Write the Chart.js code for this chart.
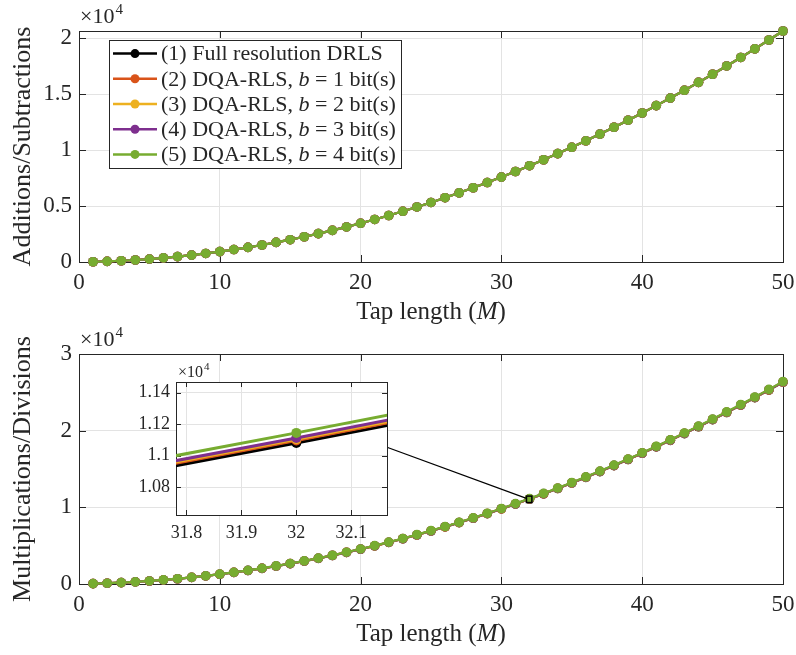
<!DOCTYPE html>
<html><head><meta charset="utf-8">
<script src="https://cdn.jsdelivr.net/npm/chart.js@4/dist/chart.umd.min.js"></script>
<style>
html,body{margin:0;padding:0;background:#fff;}
#wrap{position:relative;width:796px;height:655px;overflow:hidden;background:#fff;}
canvas{position:absolute;}
</style></head><body>
<div id="wrap">
<canvas id="cTop" width="796" height="327" style="left:0;top:0"></canvas>
<canvas id="cBot" width="796" height="328" style="left:0;top:327px"></canvas>
<canvas id="cIns" width="285" height="190" style="left:110px;top:360px"></canvas>
</div>
<script>
// ---------------- DATA ----------------
const tapLength = [1,2,3,4,5,6,7,8,9,10,11,12,13,14,15,16,17,18,19,20,21,22,23,24,25,26,27,28,29,30,31,32,33,34,35,36,37,38,39,40,41,42,43,44,45,46,47,48,49,50];
const additions = [21,58,111,180,265,366,483,616,765,930,1111,1308,1521,1750,1995,2256,2533,2826,3135,3460,3801,4158,4531,4920,5325,5746,6183,6636,7105,7590,8091,8608,9141,9690,10255,10836,11433,12046,12675,13320,13981,14658,15351,16060,16785,17526,18283,19056,19845,20650];
const multFull = [44,100,176,272,388,524,680,856,1052,1268,1504,1760,2036,2332,2648,2984,3340,3716,4112,4528,4964,5420,5896,6392,6908,7444,8000,8576,9172,9788,10424,11080,11756,12452,13168,13904,14660,15436,16232,17048,17884,18740,19616,20512,21428,22364,23320,24296,25292,26308];
const multB1 = [45,101,178,274,391,527,684,860,1057,1273,1510,1766,2043,2339,2656,2992,3349,3725,4122,4538,4975,5431,5908,6404,6921,7457,8014,8590,9187,9803,10440,11096,11773,12469,13186,13922,14679,15455,16252,17068,17905,18761,19638,20534,21451,22387,23344,24320,25317,26333];
const multB2 = [45,102,178,275,392,529,685,862,1059,1276,1512,1769,2046,2343,2659,2996,3353,3730,4126,4543,4980,5437,5913,6410,6927,7464,8020,8597,9194,9811,10447,11104,11781,12478,13194,13931,14688,15465,16261,17078,17915,18772,19648,20545,21462,22399,23355,24332,25329,26346];
const multB3 = [45,102,179,276,393,530,687,864,1061,1278,1515,1772,2049,2346,2663,3000,3357,3734,4131,4548,4985,5442,5919,6416,6933,7470,8027,8604,9201,9818,10455,11112,11789,12486,13203,13940,14697,15474,16271,17088,17925,18782,19659,20556,21473,22410,23367,24344,25341,26358];
const multB4 = [46,104,182,280,398,536,694,872,1070,1288,1526,1784,2062,2360,2678,3016,3374,3752,4150,4568,5006,5464,5942,6440,6958,7496,8054,8632,9230,9848,10486,11144,11822,12520,13238,13976,14734,15512,16310,17128,17966,18824,19702,20600,21518,22456,23414,24392,25390,26408];
const legendText = ['(1) Full resolution DRLS','(2) DQA-RLS, ','(3) DQA-RLS, ','(4) DQA-RLS, ','(5) DQA-RLS, '];
const legendBits = [null,1,2,3,4];
const xTicks = [0,10,20,30,40,50];
const topYTicks = [0,5000,10000,15000,20000];
const topYMax = 20650;
const botYTicks = [0,10000,20000,30000];
const insetXRange = [31.781,32.165];
const insetYRange = [10623,11467];
const insetXTicks = [31.8,31.9,32,32.1];
const insetYTicks = [10800,11000,11200,11400];
const connectorFrom = [32.165,11053]; // inset data coords
const connectorTo = [31.781,11170];   // main data coords
const yTitleTop = 'Additions/Subtractions';
const yTitleBot = 'Multiplications/Divisions';

// ---------------- STYLE ----------------
const FAM = "'Liberation Serif','Times New Roman',serif";
const colors = ['#000000','#D95319','#EDB120','#7E2F8E','#77AC30'];
const AX = '#262626';
const GRID = '#e3e3e3';

function fmt(v){ return String(+v.toFixed(4)); }
function sets(arrays, lw, pr, clip){
  return arrays.map((d,i)=>({
    label: legendText[i],
    data: tapLength.map((m,j)=>({x:m,y:d[j]})),
    borderColor: colors[i], backgroundColor: colors[i],
    pointBackgroundColor: colors[i], pointBorderColor: colors[i],
    borderWidth: lw, pointRadius: pr, pointBorderWidth: 0, pointHoverRadius: pr,
    order: arrays.length-1-i, tension: 0, clip: clip
  }));
}

const boxPlugin = {
  id:'boxPlugin',
  beforeDatasetsDraw(chart, args, o){
    const {ctx, chartArea:a, scales:{x,y}} = chart;
    const L = o.len;
    ctx.save();
    ctx.strokeStyle = AX; ctx.lineWidth = 1;
    ctx.beginPath();
    x.ticks.forEach(t=>{const p=Math.round(x.getPixelForValue(t.value))+0.5;
      ctx.moveTo(p,a.bottom); ctx.lineTo(p,a.bottom-L); ctx.moveTo(p,a.top); ctx.lineTo(p,a.top+L);});
    y.ticks.forEach(t=>{const p=Math.round(y.getPixelForValue(t.value))+0.5;
      ctx.moveTo(a.left,p); ctx.lineTo(a.left+L,p); ctx.moveTo(a.right,p); ctx.lineTo(a.right-L,p);});
    ctx.stroke();
    ctx.strokeRect(Math.round(a.left)+0.5, Math.round(a.top)+0.5, Math.round(a.right-a.left), Math.round(a.bottom-a.top));
    ctx.restore();
  }
};
const whiteBg = {
  id:'whiteBg',
  beforeDraw(chart){
    const {ctx, chartArea:a} = chart;
    ctx.save(); ctx.fillStyle='#fff'; ctx.fillRect(a.left,a.top,a.right-a.left,a.bottom-a.top); ctx.restore();
  }
};
const annot = {
  id:'annot',
  afterDraw(chart, args, o){
    const {ctx, chartArea:a} = chart;
    ctx.save();
    ctx.fillStyle = AX; ctx.textBaseline = 'alphabetic';
    if (o.exp){
      ctx.font = o.exp.size+'px '+FAM;
      ctx.textAlign='left';
      const x0 = a.left + o.exp.dx, y0 = a.top - o.exp.dy;
      ctx.fillText('\u00d710', x0, y0);
      const w = ctx.measureText('\u00d710').width;
      ctx.font = o.exp.sup+'px '+FAM;
      ctx.fillText('4', x0+w+1, y0 - o.exp.size*0.42);
    }
    if (o.xt){
      const parts = [['Tap length (',false],['M',true],[')',false]];
      let tw = 0;
      parts.forEach(p=>{ctx.font=(p[1]?'italic ':'')+o.xt.size+'px '+FAM; tw+=ctx.measureText(p[0]).width;});
      let xx = (a.left+a.right)/2 - tw/2; const yy = a.bottom + o.xt.dy;
      ctx.textAlign='left';
      parts.forEach(p=>{ctx.font=(p[1]?'italic ':'')+o.xt.size+'px '+FAM; ctx.fillText(p[0],xx,yy); xx+=ctx.measureText(p[0]).width;});
    }
    ctx.restore();
  }
};
const legendPlugin = {
  id:'legendPlugin',
  afterDraw(chart, args, o){
    if (!o.show) return;
    const {ctx, chartArea:a} = chart;
    const size = o.size;
    const rows = legendText.map((t,i)=>{
      const r = [[t,false]];
      if (legendBits[i]!==null){ r.push(['b',true]); r.push([' = '+legendBits[i]+' bit(s)',false]); }
      return r;
    });
    let maxW = 0;
    rows.forEach(r=>{let w=0; r.forEach(p=>{ctx.font=(p[1]?'italic ':'')+size+'px '+FAM; w+=ctx.measureText(p[0]).width;}); maxW=Math.max(maxW,w);});
    const bx = a.left + o.dx, by = a.top + o.dy;
    const bw = 52 + maxW + 5, bh = o.rowH*rows.length + 2;
    ctx.save();
    ctx.fillStyle='#fff'; ctx.fillRect(bx,by,bw,bh);
    ctx.strokeStyle=AX; ctx.lineWidth=1; ctx.strokeRect(Math.round(bx)+0.5,Math.round(by)+0.5,Math.round(bw),Math.round(bh));
    rows.forEach((r,i)=>{
      const cy = by + 1 + o.rowH*(i+0.5);
      ctx.strokeStyle=colors[i]; ctx.lineWidth=2.5;
      ctx.beginPath(); ctx.moveTo(bx+4,cy); ctx.lineTo(bx+48,cy); ctx.stroke();
      ctx.fillStyle=colors[i]; ctx.beginPath(); ctx.arc(bx+26,cy,4.5,0,Math.PI*2); ctx.fill();
      let xx = bx+52;
      ctx.fillStyle=AX; ctx.textBaseline='middle'; ctx.textAlign='left';
      r.forEach(p=>{ctx.font=(p[1]?'italic ':'')+size+'px '+FAM; ctx.fillText(p[0],xx,cy+1); xx+=ctx.measureText(p[0]).width;});
    });
    ctx.restore();
  }
};
const zoomRect = {
  id:'zoomRect',
  afterDatasetsDraw(chart, args, o){
    if (!o.show) return;
    const {ctx, scales:{x,y}} = chart;
    const x0=x.getPixelForValue(insetXRange[0]), x1=x.getPixelForValue(insetXRange[1]);
    const y0=y.getPixelForValue(insetYRange[1]), y1=y.getPixelForValue(insetYRange[0]);
    ctx.save(); ctx.strokeStyle='#000'; ctx.lineWidth=1.5;
    ctx.strokeRect(x0,y0,x1-x0,y1-y0);
    const ins = o.inset();
    if (ins){
      const fx = ins.chart.scales.x.getPixelForValue(connectorFrom[0]) + ins.dx;
      const fy = ins.chart.scales.y.getPixelForValue(connectorFrom[1]) + ins.dy;
      ctx.lineWidth=1.3; ctx.beginPath(); ctx.moveTo(fx,fy);
      ctx.lineTo(x.getPixelForValue(connectorTo[0]), y.getPixelForValue(connectorTo[1])); ctx.stroke();
    }
    ctx.restore();
  }
};

Chart.register(boxPlugin, whiteBg, annot, legendPlugin, zoomRect);

function baseOpts(cfg){
  return {
    responsive:false, animation:false, events:[],
    layout:{padding:cfg.pad},
    plugins:{legend:{display:false}, tooltip:{enabled:false},
      boxPlugin:{len:cfg.tickLen}, annot:{exp:cfg.exp, xt:cfg.xt},
      legendPlugin:cfg.legend||{show:false}, zoomRect:cfg.zoom||{show:false}},
    scales:{
      x:{type:'linear', min:cfg.xmin, max:cfg.xmax,
        afterBuildTicks:s=>{s.ticks=cfg.xt_ticks.map(v=>({value:v}));},
        afterFit:s=>{s.height=cfg.xh; s.paddingRight=0; s.paddingLeft=0;},
        ticks:{font:{family:FAM,size:cfg.tsize}, color:AX, padding:cfg.xpad, maxRotation:0, autoSkip:false, callback:v=>fmt(v)},
        grid:{color:GRID, drawTicks:false, lineWidth:1}, border:{display:false}},
      y:{type:'linear', min:cfg.ymin, max:cfg.ymax,
        afterBuildTicks:s=>{s.ticks=cfg.yt_ticks.map(v=>({value:v}));},
        afterFit:s=>{s.width=cfg.yw; s.paddingTop=0; s.paddingBottom=0;},
        ticks:{font:{family:FAM,size:cfg.tsize}, color:AX, padding:cfg.ypad, autoSkip:false, callback:v=>fmt(v/1e4)},
        title:{display:!!cfg.ytitle, text:cfg.ytitle||'', color:AX, font:{family:FAM,size:26}, padding:{top:8,bottom:0}},
        grid:{color:GRID, drawTicks:false, lineWidth:1}, border:{display:false}}
    }
  };
}

const insetChart = new Chart(document.getElementById('cIns'), {
  type:'line',
  data:{datasets:sets([multFull,multB1,multB2,multB3,multB4],3,5,0)},
  options: baseOpts({pad:{top:22,right:8,left:0,bottom:0}, tickLen:5,
    exp:{size:16,sup:11,dx:2,dy:5}, xt:null,
    xmin:insetXRange[0], xmax:insetXRange[1], xt_ticks:insetXTicks, xh:35, xpad:7,
    ymin:insetYRange[0], ymax:insetYRange[1], yt_ticks:insetYTicks, yw:66, ypad:6, tsize:18})
});

new Chart(document.getElementById('cTop'), {
  type:'line',
  data:{datasets:sets([additions,additions,additions,additions,additions],2.2,4.8,8)},
  options: baseOpts({pad:{top:31,right:13,left:0,bottom:0}, tickLen:7,
    exp:{size:22,sup:15,dx:1,dy:8}, xt:{size:25,dy:57},
    legend:{show:true,size:22,dx:30,dy:9,rowH:25.2},
    xmin:0, xmax:50, xt_ticks:xTicks, xh:65, xpad:7,
    ymin:0, ymax:topYMax, yt_ticks:topYTicks, yw:79, ypad:7, tsize:23, ytitle:yTitleTop})
});

new Chart(document.getElementById('cBot'), {
  type:'line',
  data:{datasets:sets([multFull,multB1,multB2,multB3,multB4],2.2,4.8,8)},
  options: baseOpts({pad:{top:27,right:13,left:0,bottom:0}, tickLen:7,
    exp:{size:22,sup:15,dx:1,dy:8}, xt:{size:25,dy:57},
    zoom:{show:true, inset:()=>({chart:insetChart, dx:110, dy:360-327})},
    xmin:0, xmax:50, xt_ticks:xTicks, xh:71, xpad:7,
    ymin:0, ymax:30000, yt_ticks:botYTicks, yw:79, ypad:7, tsize:23, ytitle:yTitleBot})
});
</script>
</body></html>
